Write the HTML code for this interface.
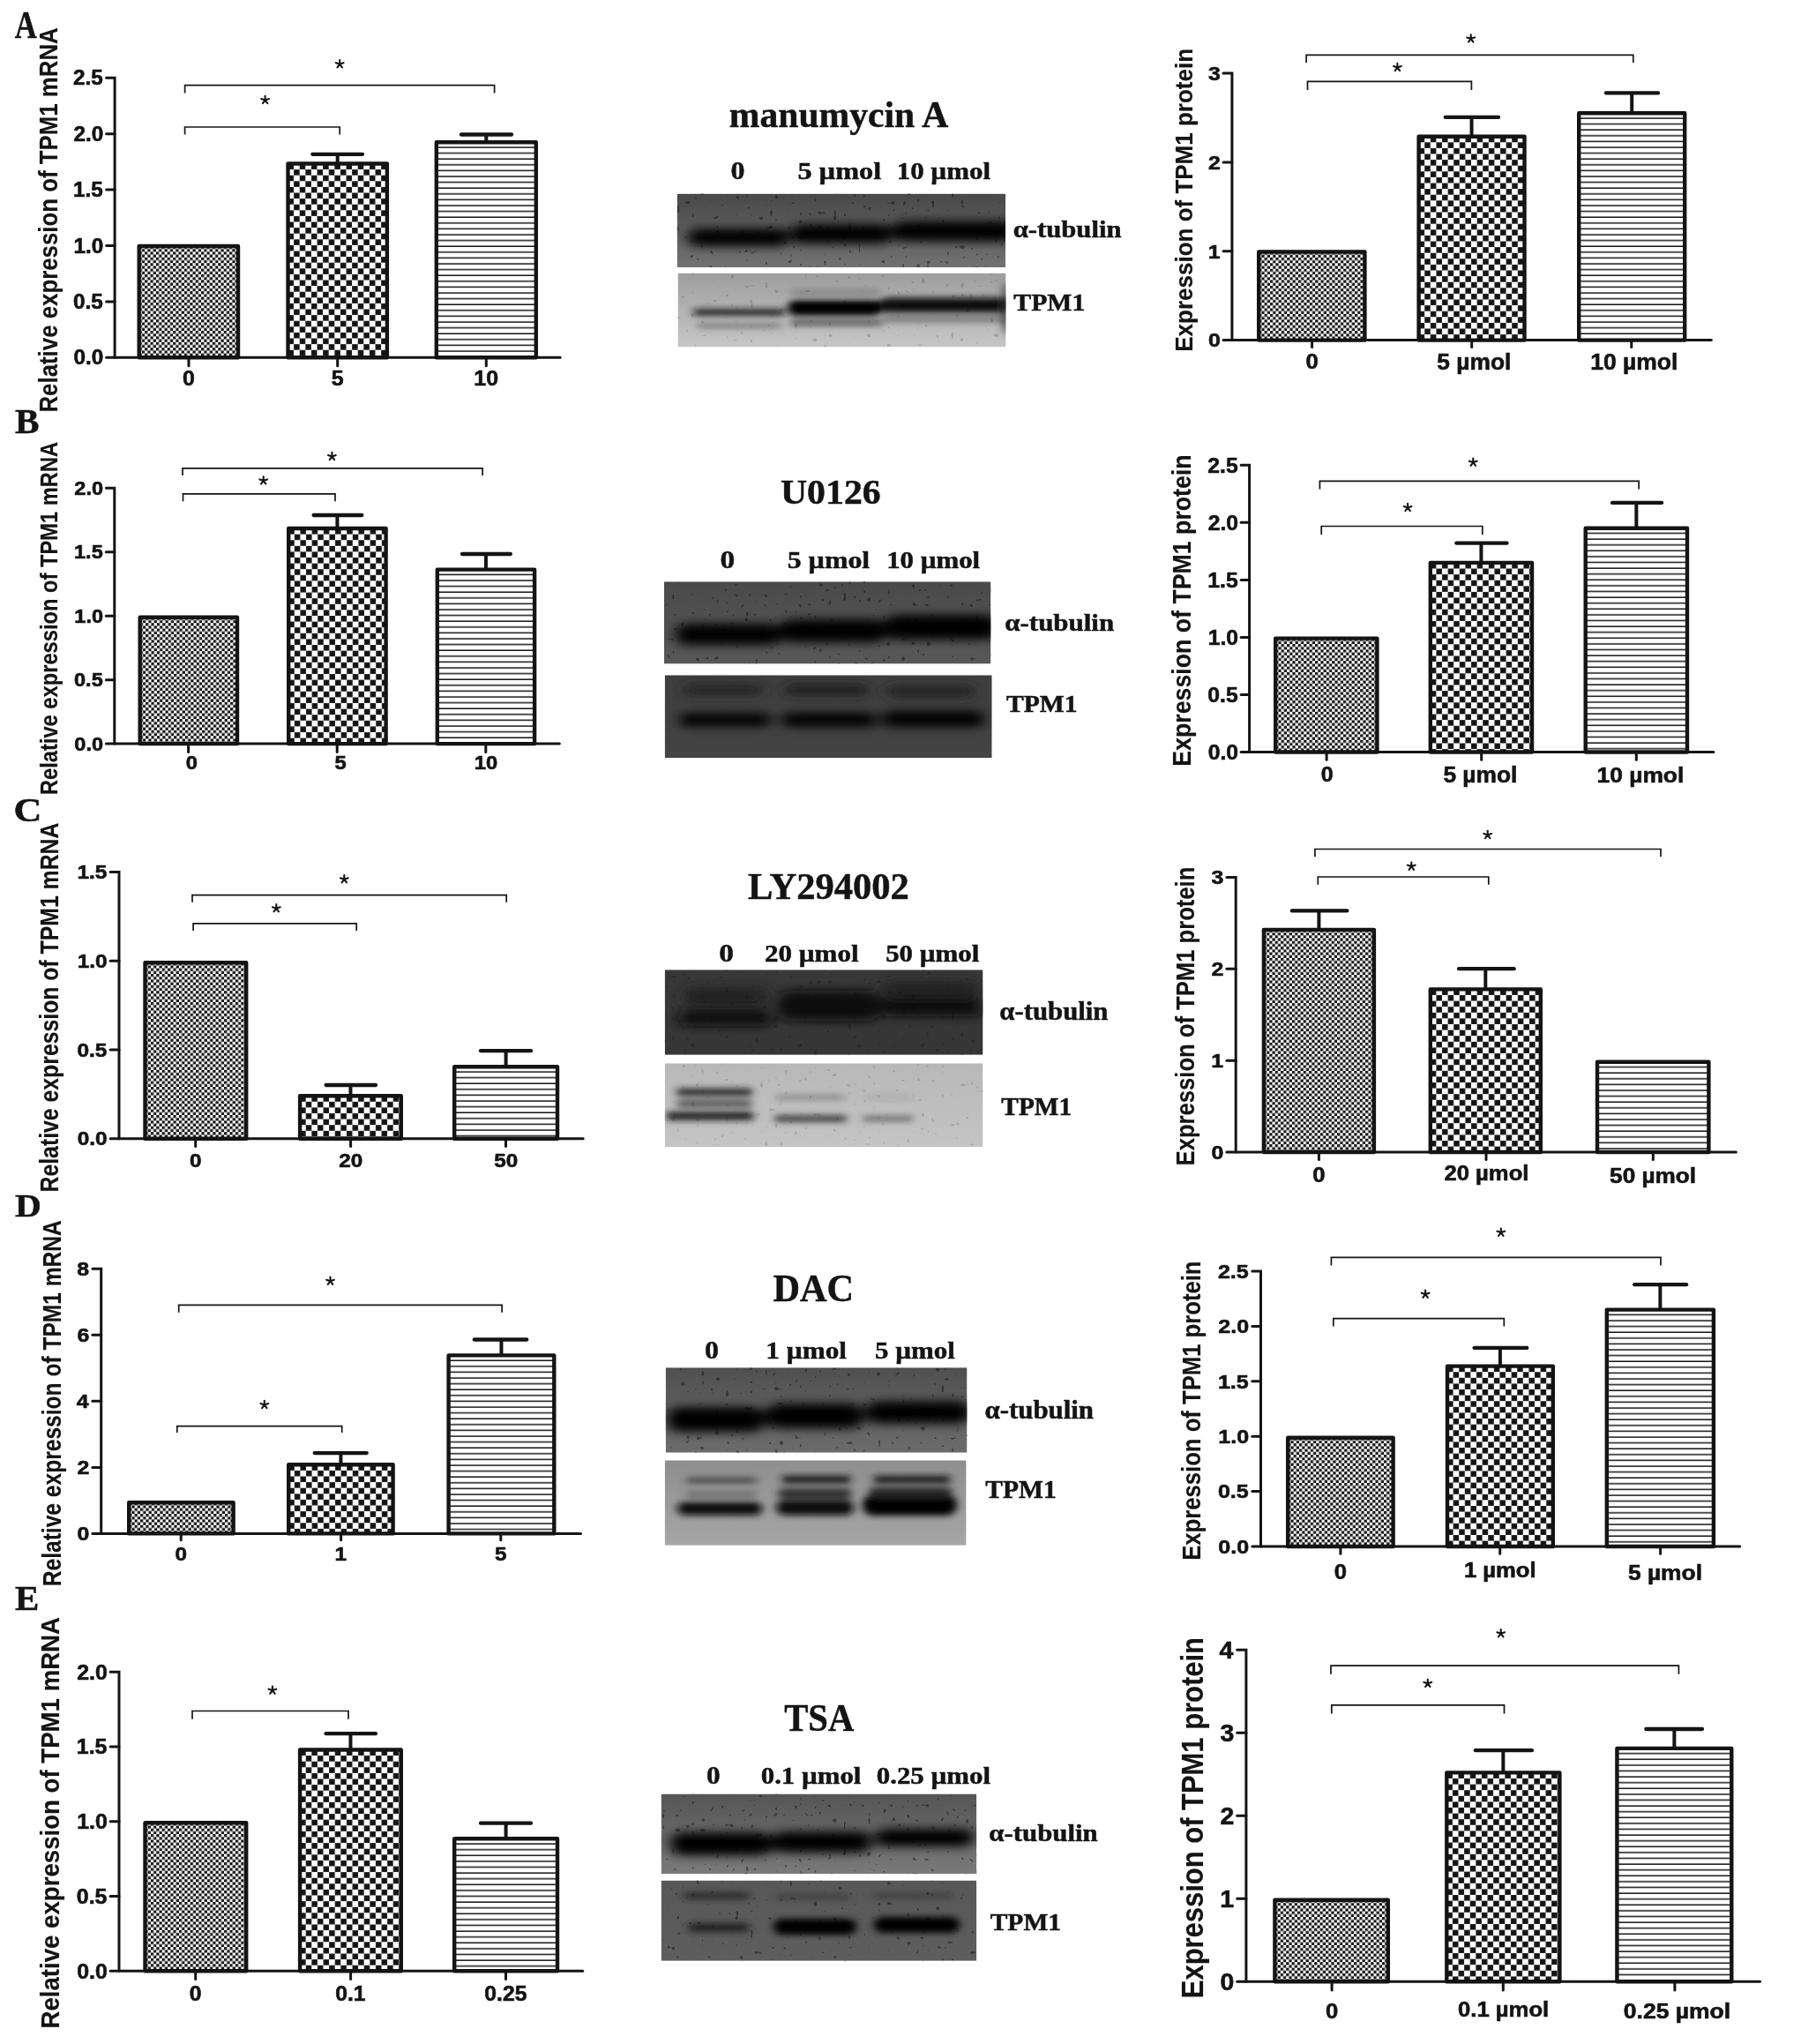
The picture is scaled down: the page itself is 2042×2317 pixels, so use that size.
<!DOCTYPE html>
<html><head><meta charset="utf-8"><style>
html,body{margin:0;padding:0;background:#fff;}
svg{display:block;filter:grayscale(1);}
.s{font-family:"Liberation Sans",sans-serif;font-weight:bold;stroke:#141414;stroke-width:0.6px;}
.t{font-family:"Liberation Sans",sans-serif;font-weight:bold;stroke:#141414;stroke-width:0.15px;}
.r{font-family:"Liberation Serif",serif;font-weight:bold;stroke:#141414;stroke-width:0.5px;}
</style></head><body>
<svg width="2042" height="2317" viewBox="0 0 2042 2317">
<rect width="2042" height="2317" fill="#fff"/>
<defs><filter id="blur" x="-20%" y="-100%" width="140%" height="300%"><feGaussianBlur stdDeviation="5 3.5"/></filter><filter id="blur2" x="-20%" y="-100%" width="140%" height="300%"><feGaussianBlur stdDeviation="8 5.5"/></filter><filter id="sp0" x="0" y="0" width="100%" height="100%"><feTurbulence type="fractalNoise" baseFrequency="0.18" numOctaves="1" seed="4" result="n"/><feColorMatrix in="n" type="matrix" values="0 0 0 0 0  0 0 0 0 0  0 0 0 0 0  30 0 0 0 -20.6"/><feGaussianBlur stdDeviation="0.7"/></filter><filter id="sp1" x="0" y="0" width="100%" height="100%"><feTurbulence type="fractalNoise" baseFrequency="0.18" numOctaves="1" seed="9" result="n"/><feColorMatrix in="n" type="matrix" values="0 0 0 0 0  0 0 0 0 0  0 0 0 0 0  30 0 0 0 -20.9"/><feGaussianBlur stdDeviation="0.7"/></filter></defs>
<pattern id="pAL_0" patternUnits="userSpaceOnUse" x="157.7" y="279" width="6.4" height="6.4"><rect width="6.4" height="6.4" fill="#fff"/><rect width="3.2" height="3.2" fill="#141414"/><rect x="3.2" y="3.2" width="3.2" height="3.2" fill="#141414"/></pattern>
<rect x="157.7" y="279" width="112.3" height="126.3" fill="url(#pAL_0)" stroke="#141414" stroke-width="4.4" stroke-linejoin="round"/>
<pattern id="pAL_1" patternUnits="userSpaceOnUse" x="326.5" y="185.5" width="13.2" height="13.2"><rect width="13.2" height="13.2" fill="#fff"/><rect x="0.07" y="0.07" width="6.47" height="6.47" fill="#141414"/><rect x="6.67" y="6.67" width="6.47" height="6.47" fill="#141414"/></pattern>
<rect x="326.5" y="185.5" width="112.4" height="219.8" fill="url(#pAL_1)" stroke="#141414" stroke-width="4.4" stroke-linejoin="round"/>
<line x1="382.7" y1="185.5" x2="382.7" y2="174.8" stroke="#141414" stroke-width="4"/>
<line x1="354.3" y1="174.8" x2="411" y2="174.8" stroke="#141414" stroke-width="4.3" stroke-linecap="round"/>
<pattern id="pAL_2" patternUnits="userSpaceOnUse" x="494.8" y="161.2" width="20" height="6.6"><rect width="20" height="6.6" fill="#fff"/><rect y="5.1" width="20" height="1.5" fill="#141414"/></pattern>
<rect x="494.8" y="161.2" width="113" height="244.1" fill="url(#pAL_2)" stroke="#141414" stroke-width="4.4" stroke-linejoin="round"/>
<line x1="551.3" y1="161.2" x2="551.3" y2="152.5" stroke="#141414" stroke-width="4"/>
<line x1="523" y1="152.5" x2="580" y2="152.5" stroke="#141414" stroke-width="4.3" stroke-linecap="round"/>
<path d="M120.6 88.3 H130.1 V405.3" fill="none" stroke="#141414" stroke-width="3.0" stroke-linecap="round" stroke-linejoin="miter"/>
<path d="M120.6 405.3 H635.1" fill="none" stroke="#141414" stroke-width="3.0" stroke-linecap="round"/>
<text class="s" transform="translate(83.38 413.41) scale(1.0300 1)" font-size="23.6" fill="#141414">0.0</text>
<line x1="120.6" y1="341.9" x2="130.1" y2="341.9" stroke="#141414" stroke-width="3.0" stroke-linecap="round"/>
<text class="s" transform="translate(83.08 350.01) scale(1.0300 1)" font-size="23.6" fill="#141414">0.5</text>
<line x1="120.6" y1="278.5" x2="130.1" y2="278.5" stroke="#141414" stroke-width="3.0" stroke-linecap="round"/>
<text class="s" transform="translate(83.38 286.61) scale(1.0300 1)" font-size="23.6" fill="#141414">1.0</text>
<line x1="120.6" y1="215.1" x2="130.1" y2="215.1" stroke="#141414" stroke-width="3.0" stroke-linecap="round"/>
<text class="s" transform="translate(83.08 223.09) scale(1.0300 1)" font-size="23.6" fill="#141414">1.5</text>
<line x1="120.6" y1="151.7" x2="130.1" y2="151.7" stroke="#141414" stroke-width="3.0" stroke-linecap="round"/>
<text class="s" transform="translate(83.38 159.81) scale(1.0300 1)" font-size="23.6" fill="#141414">2.0</text>
<text class="s" transform="translate(83.08 96.41) scale(1.0300 1)" font-size="23.6" fill="#141414">2.5</text>
<line x1="214" y1="405.3" x2="214" y2="414.8" stroke="#141414" stroke-width="3.0" stroke-linecap="round"/>
<line x1="382.7" y1="405.3" x2="382.7" y2="414.8" stroke="#141414" stroke-width="3.0" stroke-linecap="round"/>
<line x1="551.3" y1="405.3" x2="551.3" y2="414.8" stroke="#141414" stroke-width="3.0" stroke-linecap="round"/>
<text class="s" transform="translate(207.07 437.25) scale(1.0400 1)" font-size="24" fill="#141414">0</text>
<text class="s" transform="translate(375.74 437.13) scale(1.0400 1)" font-size="24" fill="#141414">5</text>
<text class="s" transform="translate(537.37 437.25) scale(1.0400 1)" font-size="24" fill="#141414">10</text>
<path d="M209.6 152.6 V144 H385.2 V152.6" fill="none" stroke="#141414" stroke-width="1.7"/>
<path d="M209.6 105.5 V96.6 H560.6 V105.5" fill="none" stroke="#141414" stroke-width="1.7"/>
<path d="M300.6 113.4 L300.6 108.8 M300.6 113.4 L304.97 111.98 M300.6 113.4 L303.3 117.12 M300.6 113.4 L297.9 117.12 M300.6 113.4 L296.23 111.98" stroke="#141414" stroke-width="2.1" stroke-linecap="round" fill="none"/>
<path d="M385.2 72.6 L385.2 68 M385.2 72.6 L389.57 71.18 M385.2 72.6 L387.9 76.32 M385.2 72.6 L382.5 76.32 M385.2 72.6 L380.83 71.18" stroke="#141414" stroke-width="2.1" stroke-linecap="round" fill="none"/>
<text class="t" transform="translate(65.1 467.54) rotate(-90) scale(0.8925 1)" font-size="28.95" fill="#141414">Relative expression of TPM1 mRNA</text>
<pattern id="pBL_0" patternUnits="userSpaceOnUse" x="158.7" y="699.8" width="6.4" height="6.4"><rect width="6.4" height="6.4" fill="#fff"/><rect width="3.2" height="3.2" fill="#141414"/><rect x="3.2" y="3.2" width="3.2" height="3.2" fill="#141414"/></pattern>
<rect x="158.7" y="699.8" width="110.3" height="143.3" fill="url(#pBL_0)" stroke="#141414" stroke-width="4.4" stroke-linejoin="round"/>
<pattern id="pBL_1" patternUnits="userSpaceOnUse" x="327.2" y="599" width="13.2" height="13.2"><rect width="13.2" height="13.2" fill="#fff"/><rect x="0.07" y="0.07" width="6.47" height="6.47" fill="#141414"/><rect x="6.67" y="6.67" width="6.47" height="6.47" fill="#141414"/></pattern>
<rect x="327.2" y="599" width="110.4" height="244.1" fill="url(#pBL_1)" stroke="#141414" stroke-width="4.4" stroke-linejoin="round"/>
<line x1="382.4" y1="599" x2="382.4" y2="584" stroke="#141414" stroke-width="4"/>
<line x1="355.6" y1="584" x2="410.3" y2="584" stroke="#141414" stroke-width="4.3" stroke-linecap="round"/>
<pattern id="pBL_2" patternUnits="userSpaceOnUse" x="495.8" y="645.6" width="20" height="6.6"><rect width="20" height="6.6" fill="#fff"/><rect y="5.1" width="20" height="1.5" fill="#141414"/></pattern>
<rect x="495.8" y="645.6" width="110.3" height="197.5" fill="url(#pBL_2)" stroke="#141414" stroke-width="4.4" stroke-linejoin="round"/>
<line x1="550.95" y1="645.6" x2="550.95" y2="628" stroke="#141414" stroke-width="4"/>
<line x1="524" y1="628" x2="578.8" y2="628" stroke="#141414" stroke-width="4.3" stroke-linecap="round"/>
<path d="M120.4 553.3 H129.8 V843.1" fill="none" stroke="#141414" stroke-width="3.0" stroke-linecap="round" stroke-linejoin="miter"/>
<path d="M120.4 843.1 H634.3" fill="none" stroke="#141414" stroke-width="3.0" stroke-linecap="round"/>
<text class="s" transform="translate(84.32 850.59) scale(1.0800 1)" font-size="21.8" fill="#141414">0.0</text>
<line x1="120.4" y1="770.65" x2="129.8" y2="770.65" stroke="#141414" stroke-width="3.0" stroke-linecap="round"/>
<text class="s" transform="translate(84.02 778.14) scale(1.0800 1)" font-size="21.8" fill="#141414">0.5</text>
<line x1="120.4" y1="698.2" x2="129.8" y2="698.2" stroke="#141414" stroke-width="3.0" stroke-linecap="round"/>
<text class="s" transform="translate(84.32 705.69) scale(1.0800 1)" font-size="21.8" fill="#141414">1.0</text>
<line x1="120.4" y1="625.75" x2="129.8" y2="625.75" stroke="#141414" stroke-width="3.0" stroke-linecap="round"/>
<text class="s" transform="translate(84.02 633.13) scale(1.0800 1)" font-size="21.8" fill="#141414">1.5</text>
<text class="s" transform="translate(84.32 560.79) scale(1.0800 1)" font-size="21.8" fill="#141414">2.0</text>
<line x1="213.6" y1="843.1" x2="213.6" y2="852.5" stroke="#141414" stroke-width="3.0" stroke-linecap="round"/>
<line x1="382.2" y1="843.1" x2="382.2" y2="852.5" stroke="#141414" stroke-width="3.0" stroke-linecap="round"/>
<line x1="550.8" y1="843.1" x2="550.8" y2="852.5" stroke="#141414" stroke-width="3.0" stroke-linecap="round"/>
<text class="s" transform="translate(210.81 871.79) scale(1.1200 1)" font-size="21.2" fill="#141414">0</text>
<text class="s" transform="translate(379.58 871.68) scale(1.1200 1)" font-size="21.2" fill="#141414">5</text>
<text class="s" transform="translate(537.75 871.79) scale(1.1200 1)" font-size="21.2" fill="#141414">10</text>
<path d="M207.5 568.3 V559.8 H380 V568.3" fill="none" stroke="#141414" stroke-width="1.7"/>
<path d="M207 538.9 V530.9 H547.1 V538.9" fill="none" stroke="#141414" stroke-width="1.7"/>
<path d="M298.7 544.8 L298.7 540.2 M298.7 544.8 L303.07 543.38 M298.7 544.8 L301.4 548.52 M298.7 544.8 L296 548.52 M298.7 544.8 L294.33 543.38" stroke="#141414" stroke-width="2.1" stroke-linecap="round" fill="none"/>
<path d="M376.4 517.4 L376.4 512.8 M376.4 517.4 L380.77 515.98 M376.4 517.4 L379.1 521.12 M376.4 517.4 L373.7 521.12 M376.4 517.4 L372.03 515.98" stroke="#141414" stroke-width="2.1" stroke-linecap="round" fill="none"/>
<text class="t" transform="translate(65.1 901.1) rotate(-90) scale(0.8398 1)" font-size="28.22" fill="#141414">Relative expression of TPM1 mRNA</text>
<pattern id="pCL_0" patternUnits="userSpaceOnUse" x="164.5" y="1091.2" width="6.4" height="6.4"><rect width="6.4" height="6.4" fill="#fff"/><rect width="3.2" height="3.2" fill="#141414"/><rect x="3.2" y="3.2" width="3.2" height="3.2" fill="#141414"/></pattern>
<rect x="164.5" y="1091.2" width="114.7" height="199.5" fill="url(#pCL_0)" stroke="#141414" stroke-width="4.4" stroke-linejoin="round"/>
<pattern id="pCL_1" patternUnits="userSpaceOnUse" x="340.1" y="1242.2" width="13.2" height="13.2"><rect width="13.2" height="13.2" fill="#fff"/><rect x="0.07" y="0.07" width="6.47" height="6.47" fill="#141414"/><rect x="6.67" y="6.67" width="6.47" height="6.47" fill="#141414"/></pattern>
<rect x="340.1" y="1242.2" width="114.7" height="48.5" fill="url(#pCL_1)" stroke="#141414" stroke-width="4.4" stroke-linejoin="round"/>
<line x1="397.45" y1="1242.2" x2="397.45" y2="1230" stroke="#141414" stroke-width="4"/>
<line x1="369.6" y1="1230" x2="426" y2="1230" stroke="#141414" stroke-width="4.3" stroke-linecap="round"/>
<pattern id="pCL_2" patternUnits="userSpaceOnUse" x="515.2" y="1209.2" width="20" height="6.6"><rect width="20" height="6.6" fill="#fff"/><rect y="5.1" width="20" height="1.5" fill="#141414"/></pattern>
<rect x="515.2" y="1209.2" width="116.8" height="81.5" fill="url(#pCL_2)" stroke="#141414" stroke-width="4.4" stroke-linejoin="round"/>
<line x1="573.6" y1="1209.2" x2="573.6" y2="1191.2" stroke="#141414" stroke-width="4"/>
<line x1="545" y1="1191.2" x2="602" y2="1191.2" stroke="#141414" stroke-width="4.3" stroke-linecap="round"/>
<path d="M125.1 988.45 H135 V1290.7" fill="none" stroke="#141414" stroke-width="3.0" stroke-linecap="round" stroke-linejoin="miter"/>
<path d="M125.1 1290.7 H661.2" fill="none" stroke="#141414" stroke-width="3.0" stroke-linecap="round"/>
<text class="s" transform="translate(87.73 1298.33) scale(1.1000 1)" font-size="22.2" fill="#141414">0.0</text>
<line x1="125.1" y1="1189.95" x2="135" y2="1189.95" stroke="#141414" stroke-width="3.0" stroke-linecap="round"/>
<text class="s" transform="translate(87.43 1197.58) scale(1.1000 1)" font-size="22.2" fill="#141414">0.5</text>
<line x1="125.1" y1="1089.2" x2="135" y2="1089.2" stroke="#141414" stroke-width="3.0" stroke-linecap="round"/>
<text class="s" transform="translate(87.73 1096.83) scale(1.1000 1)" font-size="22.2" fill="#141414">1.0</text>
<text class="s" transform="translate(87.43 995.97) scale(1.1000 1)" font-size="22.2" fill="#141414">1.5</text>
<line x1="221.7" y1="1290.7" x2="221.7" y2="1299.4" stroke="#141414" stroke-width="3.0" stroke-linecap="round"/>
<line x1="397.6" y1="1290.7" x2="397.6" y2="1299.4" stroke="#141414" stroke-width="3.0" stroke-linecap="round"/>
<line x1="573.5" y1="1290.7" x2="573.5" y2="1299.4" stroke="#141414" stroke-width="3.0" stroke-linecap="round"/>
<text class="s" transform="translate(214.96 1322.73) scale(1.0800 1)" font-size="22.5" fill="#141414">0</text>
<text class="s" transform="translate(384.17 1322.73) scale(1.0800 1)" font-size="22.5" fill="#141414">20</text>
<text class="s" transform="translate(560.13 1322.73) scale(1.0800 1)" font-size="22.5" fill="#141414">50</text>
<path d="M219.1 1054.9 V1046.8 H404.2 V1054.9" fill="none" stroke="#141414" stroke-width="1.7"/>
<path d="M218 1022.7 V1014.6 H574.2 V1022.7" fill="none" stroke="#141414" stroke-width="1.7"/>
<path d="M313.3 1029.7 L313.3 1025.1 M313.3 1029.7 L317.67 1028.28 M313.3 1029.7 L316 1033.42 M313.3 1029.7 L310.6 1033.42 M313.3 1029.7 L308.93 1028.28" stroke="#141414" stroke-width="2.1" stroke-linecap="round" fill="none"/>
<path d="M390.3 996.7 L390.3 992.1 M390.3 996.7 L394.67 995.28 M390.3 996.7 L393 1000.42 M390.3 996.7 L387.6 1000.42 M390.3 996.7 L385.93 995.28" stroke="#141414" stroke-width="2.1" stroke-linecap="round" fill="none"/>
<text class="t" transform="translate(66.2 1351.48) rotate(-90) scale(0.8530 1)" font-size="29.09" fill="#141414">Relative expression of TPM1 mRNA</text>
<pattern id="pDL_0" patternUnits="userSpaceOnUse" x="146.2" y="1703.2" width="6.4" height="6.4"><rect width="6.4" height="6.4" fill="#fff"/><rect width="3.2" height="3.2" fill="#141414"/><rect x="3.2" y="3.2" width="3.2" height="3.2" fill="#141414"/></pattern>
<rect x="146.2" y="1703.2" width="118.4" height="35.2" fill="url(#pDL_0)" stroke="#141414" stroke-width="4.4" stroke-linejoin="round"/>
<pattern id="pDL_1" patternUnits="userSpaceOnUse" x="327.2" y="1660.3" width="13.2" height="13.2"><rect width="13.2" height="13.2" fill="#fff"/><rect x="0.07" y="0.07" width="6.47" height="6.47" fill="#141414"/><rect x="6.67" y="6.67" width="6.47" height="6.47" fill="#141414"/></pattern>
<rect x="327.2" y="1660.3" width="118.4" height="78.1" fill="url(#pDL_1)" stroke="#141414" stroke-width="4.4" stroke-linejoin="round"/>
<line x1="386.4" y1="1660.3" x2="386.4" y2="1647.1" stroke="#141414" stroke-width="4"/>
<line x1="356.7" y1="1647.1" x2="415.8" y2="1647.1" stroke="#141414" stroke-width="4.3" stroke-linecap="round"/>
<pattern id="pDL_2" patternUnits="userSpaceOnUse" x="508.6" y="1536.4" width="20" height="6.6"><rect width="20" height="6.6" fill="#fff"/><rect y="5.1" width="20" height="1.5" fill="#141414"/></pattern>
<rect x="508.6" y="1536.4" width="119.7" height="202" fill="url(#pDL_2)" stroke="#141414" stroke-width="4.4" stroke-linejoin="round"/>
<line x1="568.45" y1="1536.4" x2="568.45" y2="1518.5" stroke="#141414" stroke-width="4"/>
<line x1="537.8" y1="1518.5" x2="597.2" y2="1518.5" stroke="#141414" stroke-width="4.3" stroke-linecap="round"/>
<path d="M104.9 1438.32 H114.7 V1738.4" fill="none" stroke="#141414" stroke-width="3.0" stroke-linecap="round" stroke-linejoin="miter"/>
<path d="M104.9 1738.4 H658.5" fill="none" stroke="#141414" stroke-width="3.0" stroke-linecap="round"/>
<text class="s" transform="translate(87.6 1746.03) scale(1.1200 1)" font-size="22.2" fill="#141414">0</text>
<line x1="104.9" y1="1663.38" x2="114.7" y2="1663.38" stroke="#141414" stroke-width="3.0" stroke-linecap="round"/>
<text class="s" transform="translate(87.53 1671.12) scale(1.1200 1)" font-size="22.2" fill="#141414">2</text>
<line x1="104.9" y1="1588.36" x2="114.7" y2="1588.36" stroke="#141414" stroke-width="3.0" stroke-linecap="round"/>
<text class="s" transform="translate(86.72 1595.99) scale(1.1200 1)" font-size="22.2" fill="#141414">4</text>
<line x1="104.9" y1="1513.34" x2="114.7" y2="1513.34" stroke="#141414" stroke-width="3.0" stroke-linecap="round"/>
<text class="s" transform="translate(87.47 1520.97) scale(1.1200 1)" font-size="22.2" fill="#141414">6</text>
<text class="s" transform="translate(87.35 1445.95) scale(1.1200 1)" font-size="22.2" fill="#141414">8</text>
<line x1="205.2" y1="1738.4" x2="205.2" y2="1745.8" stroke="#141414" stroke-width="3.0" stroke-linecap="round"/>
<line x1="386.6" y1="1738.4" x2="386.6" y2="1745.8" stroke="#141414" stroke-width="3.0" stroke-linecap="round"/>
<line x1="567.8" y1="1738.4" x2="567.8" y2="1745.8" stroke="#141414" stroke-width="3.0" stroke-linecap="round"/>
<text class="s" transform="translate(198.46 1769.13) scale(1.0800 1)" font-size="22.5" fill="#141414">0</text>
<text class="s" transform="translate(379.43 1769.13) scale(1.0800 1)" font-size="22.5" fill="#141414">1</text>
<text class="s" transform="translate(561.03 1769.02) scale(1.0800 1)" font-size="22.5" fill="#141414">5</text>
<path d="M200.8 1624 V1616.7 H387.7 V1624" fill="none" stroke="#141414" stroke-width="1.7"/>
<path d="M202.7 1487.7 V1479.3 H569.1 V1487.7" fill="none" stroke="#141414" stroke-width="1.7"/>
<path d="M299.8 1592.5 L299.8 1587.9 M299.8 1592.5 L304.17 1591.08 M299.8 1592.5 L302.5 1596.22 M299.8 1592.5 L297.1 1596.22 M299.8 1592.5 L295.43 1591.08" stroke="#141414" stroke-width="2.1" stroke-linecap="round" fill="none"/>
<path d="M374.5 1452.2 L374.5 1447.6 M374.5 1452.2 L378.87 1450.78 M374.5 1452.2 L377.2 1455.92 M374.5 1452.2 L371.8 1455.92 M374.5 1452.2 L370.13 1450.78" stroke="#141414" stroke-width="2.1" stroke-linecap="round" fill="none"/>
<text class="t" transform="translate(68.6 1798.26) rotate(-90) scale(0.8285 1)" font-size="29.67" fill="#141414">Relative expression of TPM1 mRNA</text>
<pattern id="pEL_0" patternUnits="userSpaceOnUse" x="164.5" y="2066.3" width="6.4" height="6.4"><rect width="6.4" height="6.4" fill="#fff"/><rect width="3.2" height="3.2" fill="#141414"/><rect x="3.2" y="3.2" width="3.2" height="3.2" fill="#141414"/></pattern>
<rect x="164.5" y="2066.3" width="114.7" height="167.9" fill="url(#pEL_0)" stroke="#141414" stroke-width="4.4" stroke-linejoin="round"/>
<pattern id="pEL_1" patternUnits="userSpaceOnUse" x="340.1" y="1983.5" width="13.2" height="13.2"><rect width="13.2" height="13.2" fill="#fff"/><rect x="0.07" y="0.07" width="6.47" height="6.47" fill="#141414"/><rect x="6.67" y="6.67" width="6.47" height="6.47" fill="#141414"/></pattern>
<rect x="340.1" y="1983.5" width="114.7" height="250.7" fill="url(#pEL_1)" stroke="#141414" stroke-width="4.4" stroke-linejoin="round"/>
<line x1="397.45" y1="1983.5" x2="397.45" y2="1965.2" stroke="#141414" stroke-width="4"/>
<line x1="369.6" y1="1965.2" x2="426" y2="1965.2" stroke="#141414" stroke-width="4.3" stroke-linecap="round"/>
<pattern id="pEL_2" patternUnits="userSpaceOnUse" x="515.2" y="2084.3" width="20" height="6.6"><rect width="20" height="6.6" fill="#fff"/><rect y="5.1" width="20" height="1.5" fill="#141414"/></pattern>
<rect x="515.2" y="2084.3" width="116.8" height="149.9" fill="url(#pEL_2)" stroke="#141414" stroke-width="4.4" stroke-linejoin="round"/>
<line x1="573.6" y1="2084.3" x2="573.6" y2="2066.7" stroke="#141414" stroke-width="4"/>
<line x1="545" y1="2066.7" x2="602" y2="2066.7" stroke="#141414" stroke-width="4.3" stroke-linecap="round"/>
<path d="M125.1 1895.2 H135 V2234.2" fill="none" stroke="#141414" stroke-width="3.0" stroke-linecap="round" stroke-linejoin="miter"/>
<path d="M125.1 2234.2 H660.7" fill="none" stroke="#141414" stroke-width="3.0" stroke-linecap="round"/>
<text class="s" transform="translate(87.15 2242.52) scale(1.0300 1)" font-size="24.2" fill="#141414">0.0</text>
<line x1="125.1" y1="2149.45" x2="135" y2="2149.45" stroke="#141414" stroke-width="3.0" stroke-linecap="round"/>
<text class="s" transform="translate(86.84 2157.77) scale(1.0300 1)" font-size="24.2" fill="#141414">0.5</text>
<line x1="125.1" y1="2064.7" x2="135" y2="2064.7" stroke="#141414" stroke-width="3.0" stroke-linecap="round"/>
<text class="s" transform="translate(87.15 2073.02) scale(1.0300 1)" font-size="24.2" fill="#141414">1.0</text>
<line x1="125.1" y1="1979.95" x2="135" y2="1979.95" stroke="#141414" stroke-width="3.0" stroke-linecap="round"/>
<text class="s" transform="translate(86.84 1988.15) scale(1.0300 1)" font-size="24.2" fill="#141414">1.5</text>
<text class="s" transform="translate(87.15 1903.52) scale(1.0300 1)" font-size="24.2" fill="#141414">2.0</text>
<line x1="221.7" y1="2234.2" x2="221.7" y2="2243.4" stroke="#141414" stroke-width="3.0" stroke-linecap="round"/>
<line x1="397.6" y1="2234.2" x2="397.6" y2="2243.4" stroke="#141414" stroke-width="3.0" stroke-linecap="round"/>
<line x1="573.5" y1="2234.2" x2="573.5" y2="2243.4" stroke="#141414" stroke-width="3.0" stroke-linecap="round"/>
<text class="s" transform="translate(214.85 2268.28) scale(1.0500 1)" font-size="23.5" fill="#141414">0</text>
<text class="s" transform="translate(380.3 2268.28) scale(1.0500 1)" font-size="23.5" fill="#141414">0.1</text>
<text class="s" transform="translate(549.35 2268.28) scale(1.0500 1)" font-size="23.5" fill="#141414">0.25</text>
<path d="M218 1948.7 V1939.5 H395 V1948.7" fill="none" stroke="#141414" stroke-width="1.7"/>
<path d="M308.9 1916.1 L308.9 1911.5 M308.9 1916.1 L313.27 1914.68 M308.9 1916.1 L311.6 1919.82 M308.9 1916.1 L306.2 1919.82 M308.9 1916.1 L304.53 1914.68" stroke="#141414" stroke-width="2.1" stroke-linecap="round" fill="none"/>
<text class="t" transform="translate(67.3 2299.46) rotate(-90) scale(0.9356 1)" font-size="29.53" fill="#141414">Relative expression of TPM1 mRNA</text>
<pattern id="pAR_0" patternUnits="userSpaceOnUse" x="1427.2" y="285.5" width="6.4" height="6.4"><rect width="6.4" height="6.4" fill="#fff"/><rect width="3.2" height="3.2" fill="#141414"/><rect x="3.2" y="3.2" width="3.2" height="3.2" fill="#141414"/></pattern>
<rect x="1427.2" y="285.5" width="120.2" height="100.1" fill="url(#pAR_0)" stroke="#141414" stroke-width="4.4" stroke-linejoin="round"/>
<pattern id="pAR_1" patternUnits="userSpaceOnUse" x="1608.6" y="154.7" width="13.2" height="13.2"><rect width="13.2" height="13.2" fill="#fff"/><rect x="0.07" y="0.07" width="6.47" height="6.47" fill="#141414"/><rect x="6.67" y="6.67" width="6.47" height="6.47" fill="#141414"/></pattern>
<rect x="1608.6" y="154.7" width="119.9" height="230.9" fill="url(#pAR_1)" stroke="#141414" stroke-width="4.4" stroke-linejoin="round"/>
<line x1="1668.55" y1="154.7" x2="1668.55" y2="132.9" stroke="#141414" stroke-width="4"/>
<line x1="1638.7" y1="132.9" x2="1699" y2="132.9" stroke="#141414" stroke-width="4.3" stroke-linecap="round"/>
<pattern id="pAR_2" patternUnits="userSpaceOnUse" x="1790.2" y="128.2" width="20" height="6.6"><rect width="20" height="6.6" fill="#fff"/><rect y="5.1" width="20" height="1.5" fill="#141414"/></pattern>
<rect x="1790.2" y="128.2" width="120" height="257.4" fill="url(#pAR_2)" stroke="#141414" stroke-width="4.4" stroke-linejoin="round"/>
<line x1="1850.2" y1="128.2" x2="1850.2" y2="105.4" stroke="#141414" stroke-width="4"/>
<line x1="1821" y1="105.4" x2="1880" y2="105.4" stroke="#141414" stroke-width="4.3" stroke-linecap="round"/>
<path d="M1387 83.11 H1396.9 V385.6" fill="none" stroke="#141414" stroke-width="3.0" stroke-linecap="round" stroke-linejoin="miter"/>
<path d="M1387 385.6 H1940.3" fill="none" stroke="#141414" stroke-width="3.0" stroke-linecap="round"/>
<text class="s" transform="translate(1370.1 393.37) scale(1.1000 1)" font-size="22.6" fill="#141414">0</text>
<line x1="1387" y1="284.77" x2="1396.9" y2="284.77" stroke="#141414" stroke-width="3.0" stroke-linecap="round"/>
<text class="s" transform="translate(1369.79 292.54) scale(1.1000 1)" font-size="22.6" fill="#141414">1</text>
<line x1="1387" y1="183.94" x2="1396.9" y2="183.94" stroke="#141414" stroke-width="3.0" stroke-linecap="round"/>
<text class="s" transform="translate(1370.03 191.82) scale(1.1000 1)" font-size="22.6" fill="#141414">2</text>
<text class="s" transform="translate(1369.97 90.85) scale(1.1000 1)" font-size="22.6" fill="#141414">3</text>
<line x1="1487.6" y1="385.6" x2="1487.6" y2="393.6" stroke="#141414" stroke-width="3.0" stroke-linecap="round"/>
<line x1="1668.7" y1="385.6" x2="1668.7" y2="393.6" stroke="#141414" stroke-width="3.0" stroke-linecap="round"/>
<line x1="1849.8" y1="385.6" x2="1849.8" y2="393.6" stroke="#141414" stroke-width="3.0" stroke-linecap="round"/>
<text class="s" transform="translate(1480.57 417.9) scale(1.0664 1)" font-size="24.09" fill="#141414">0</text>
<text class="s" transform="translate(1629.31 418.8) scale(1.0502 1)" font-size="25.1" fill="#141414">5 µmol</text>
<text class="s" transform="translate(1803.25 418.8) scale(1.0542 1)" font-size="25.1" fill="#141414">10 µmol</text>
<path d="M1482.5 101.9 V92.3 H1668.4 V101.9" fill="none" stroke="#141414" stroke-width="1.7"/>
<path d="M1481.1 71 V62.3 H1851.8 V71" fill="none" stroke="#141414" stroke-width="1.7"/>
<path d="M1584.4 76.5 L1584.4 71.9 M1584.4 76.5 L1588.77 75.08 M1584.4 76.5 L1587.1 80.22 M1584.4 76.5 L1581.7 80.22 M1584.4 76.5 L1580.03 75.08" stroke="#141414" stroke-width="2.1" stroke-linecap="round" fill="none"/>
<path d="M1667.7 43.8 L1667.7 39.2 M1667.7 43.8 L1672.07 42.38 M1667.7 43.8 L1670.4 47.52 M1667.7 43.8 L1665 47.52 M1667.7 43.8 L1663.33 42.38" stroke="#141414" stroke-width="2.1" stroke-linecap="round" fill="none"/>
<text class="t" transform="translate(1352.2 398.76) rotate(-90) scale(0.9268 1)" font-size="28.07" fill="#141414">Expression of TPM1 protein</text>
<pattern id="pBR_0" patternUnits="userSpaceOnUse" x="1446.2" y="723.6" width="6.4" height="6.4"><rect width="6.4" height="6.4" fill="#fff"/><rect width="3.2" height="3.2" fill="#141414"/><rect x="3.2" y="3.2" width="3.2" height="3.2" fill="#141414"/></pattern>
<rect x="1446.2" y="723.6" width="115.2" height="128.9" fill="url(#pBR_0)" stroke="#141414" stroke-width="4.4" stroke-linejoin="round"/>
<pattern id="pBR_1" patternUnits="userSpaceOnUse" x="1621.8" y="637.9" width="13.2" height="13.2"><rect width="13.2" height="13.2" fill="#fff"/><rect x="0.07" y="0.07" width="6.47" height="6.47" fill="#141414"/><rect x="6.67" y="6.67" width="6.47" height="6.47" fill="#141414"/></pattern>
<rect x="1621.8" y="637.9" width="115.2" height="214.6" fill="url(#pBR_1)" stroke="#141414" stroke-width="4.4" stroke-linejoin="round"/>
<line x1="1679.4" y1="637.9" x2="1679.4" y2="615.7" stroke="#141414" stroke-width="4"/>
<line x1="1651.3" y1="615.7" x2="1708.5" y2="615.7" stroke="#141414" stroke-width="4.3" stroke-linecap="round"/>
<pattern id="pBR_2" patternUnits="userSpaceOnUse" x="1797.7" y="598.7" width="20" height="6.6"><rect width="20" height="6.6" fill="#fff"/><rect y="5.1" width="20" height="1.5" fill="#141414"/></pattern>
<rect x="1797.7" y="598.7" width="115.3" height="253.8" fill="url(#pBR_2)" stroke="#141414" stroke-width="4.4" stroke-linejoin="round"/>
<line x1="1855.35" y1="598.7" x2="1855.35" y2="569.9" stroke="#141414" stroke-width="4"/>
<line x1="1828" y1="569.9" x2="1884.1" y2="569.9" stroke="#141414" stroke-width="4.3" stroke-linecap="round"/>
<path d="M1407.1 527.3 H1416.6 V852.5" fill="none" stroke="#141414" stroke-width="3.0" stroke-linecap="round" stroke-linejoin="miter"/>
<path d="M1407.1 852.5 H1942.9" fill="none" stroke="#141414" stroke-width="3.0" stroke-linecap="round"/>
<text class="s" transform="translate(1369.63 860.75) scale(1.0300 1)" font-size="24" fill="#141414">0.0</text>
<line x1="1407.1" y1="787.46" x2="1416.6" y2="787.46" stroke="#141414" stroke-width="3.0" stroke-linecap="round"/>
<text class="s" transform="translate(1369.32 795.71) scale(1.0300 1)" font-size="24" fill="#141414">0.5</text>
<line x1="1407.1" y1="722.42" x2="1416.6" y2="722.42" stroke="#141414" stroke-width="3.0" stroke-linecap="round"/>
<text class="s" transform="translate(1369.63 730.67) scale(1.0300 1)" font-size="24" fill="#141414">1.0</text>
<line x1="1407.1" y1="657.38" x2="1416.6" y2="657.38" stroke="#141414" stroke-width="3.0" stroke-linecap="round"/>
<text class="s" transform="translate(1369.32 665.51) scale(1.0300 1)" font-size="24" fill="#141414">1.5</text>
<line x1="1407.1" y1="592.34" x2="1416.6" y2="592.34" stroke="#141414" stroke-width="3.0" stroke-linecap="round"/>
<text class="s" transform="translate(1369.63 600.59) scale(1.0300 1)" font-size="24" fill="#141414">2.0</text>
<text class="s" transform="translate(1369.32 535.55) scale(1.0300 1)" font-size="24" fill="#141414">2.5</text>
<line x1="1504.1" y1="852.5" x2="1504.1" y2="861.3" stroke="#141414" stroke-width="3.0" stroke-linecap="round"/>
<line x1="1679.7" y1="852.5" x2="1679.7" y2="861.3" stroke="#141414" stroke-width="3.0" stroke-linecap="round"/>
<line x1="1855.3" y1="852.5" x2="1855.3" y2="861.3" stroke="#141414" stroke-width="3.0" stroke-linecap="round"/>
<text class="s" transform="translate(1497.7 886.2) scale(1.0279 1)" font-size="24.37" fill="#141414">0</text>
<text class="s" transform="translate(1636.41 887.2) scale(1.0319 1)" font-size="25.52" fill="#141414">5 µmol</text>
<text class="s" transform="translate(1810.55 887.2) scale(1.0626 1)" font-size="24.83" fill="#141414">10 µmol</text>
<path d="M1498.2 606 V596.5 H1680.8 V606" fill="none" stroke="#141414" stroke-width="1.7"/>
<path d="M1496.4 554.5 V545.4 H1858.1 V554.5" fill="none" stroke="#141414" stroke-width="1.7"/>
<path d="M1596.1 575.5 L1596.1 570.9 M1596.1 575.5 L1600.47 574.08 M1596.1 575.5 L1598.8 579.22 M1596.1 575.5 L1593.4 579.22 M1596.1 575.5 L1591.73 574.08" stroke="#141414" stroke-width="2.1" stroke-linecap="round" fill="none"/>
<path d="M1670.3 524.1 L1670.3 519.5 M1670.3 524.1 L1674.67 522.68 M1670.3 524.1 L1673 527.82 M1670.3 524.1 L1667.6 527.82 M1670.3 524.1 L1665.93 522.68" stroke="#141414" stroke-width="2.1" stroke-linecap="round" fill="none"/>
<text class="t" transform="translate(1350 868.7) rotate(-90) scale(0.9142 1)" font-size="29.24" fill="#141414">Expression of TPM1 protein</text>
<pattern id="pCR_0" patternUnits="userSpaceOnUse" x="1432.9" y="1053.9" width="6.4" height="6.4"><rect width="6.4" height="6.4" fill="#fff"/><rect width="3.2" height="3.2" fill="#141414"/><rect x="3.2" y="3.2" width="3.2" height="3.2" fill="#141414"/></pattern>
<rect x="1432.9" y="1053.9" width="125" height="252.1" fill="url(#pCR_0)" stroke="#141414" stroke-width="4.4" stroke-linejoin="round"/>
<line x1="1495.4" y1="1053.9" x2="1495.4" y2="1032.4" stroke="#141414" stroke-width="4"/>
<line x1="1464.9" y1="1032.4" x2="1527.3" y2="1032.4" stroke="#141414" stroke-width="4.3" stroke-linecap="round"/>
<pattern id="pCR_1" patternUnits="userSpaceOnUse" x="1621.8" y="1121.4" width="13.2" height="13.2"><rect width="13.2" height="13.2" fill="#fff"/><rect x="0.07" y="0.07" width="6.47" height="6.47" fill="#141414"/><rect x="6.67" y="6.67" width="6.47" height="6.47" fill="#141414"/></pattern>
<rect x="1621.8" y="1121.4" width="125" height="184.6" fill="url(#pCR_1)" stroke="#141414" stroke-width="4.4" stroke-linejoin="round"/>
<line x1="1684.3" y1="1121.4" x2="1684.3" y2="1098.2" stroke="#141414" stroke-width="4"/>
<line x1="1654.1" y1="1098.2" x2="1716.6" y2="1098.2" stroke="#141414" stroke-width="4.3" stroke-linecap="round"/>
<pattern id="pCR_2" patternUnits="userSpaceOnUse" x="1811" y="1203.8" width="20" height="6.6"><rect width="20" height="6.6" fill="#fff"/><rect y="5.1" width="20" height="1.5" fill="#141414"/></pattern>
<rect x="1811" y="1203.8" width="126.4" height="102.2" fill="url(#pCR_2)" stroke="#141414" stroke-width="4.4" stroke-linejoin="round"/>
<path d="M1390.9 994.51 H1401.2 V1306" fill="none" stroke="#141414" stroke-width="3.0" stroke-linecap="round" stroke-linejoin="miter"/>
<path d="M1390.9 1306 H1968.3" fill="none" stroke="#141414" stroke-width="3.0" stroke-linecap="round"/>
<text class="s" transform="translate(1373.6 1313.77) scale(1.1000 1)" font-size="22.6" fill="#141414">0</text>
<line x1="1390.9" y1="1202.17" x2="1401.2" y2="1202.17" stroke="#141414" stroke-width="3.0" stroke-linecap="round"/>
<text class="s" transform="translate(1373.29 1209.94) scale(1.1000 1)" font-size="22.6" fill="#141414">1</text>
<line x1="1390.9" y1="1098.34" x2="1401.2" y2="1098.34" stroke="#141414" stroke-width="3.0" stroke-linecap="round"/>
<text class="s" transform="translate(1373.53 1106.22) scale(1.1000 1)" font-size="22.6" fill="#141414">2</text>
<text class="s" transform="translate(1373.47 1002.25) scale(1.1000 1)" font-size="22.6" fill="#141414">3</text>
<line x1="1495.4" y1="1306" x2="1495.4" y2="1314.5" stroke="#141414" stroke-width="3.0" stroke-linecap="round"/>
<line x1="1685" y1="1306" x2="1685" y2="1314.5" stroke="#141414" stroke-width="3.0" stroke-linecap="round"/>
<line x1="1874.3" y1="1306" x2="1874.3" y2="1314.5" stroke="#141414" stroke-width="3.0" stroke-linecap="round"/>
<text class="s" transform="translate(1488.28 1339.82) scale(1.0600 1)" font-size="24.2" fill="#141414">0</text>
<text class="s" transform="translate(1637.42 1337.76) scale(1.0600 1)" font-size="24.2" fill="#141414">20 µmol</text>
<text class="s" transform="translate(1825.11 1340.8) scale(1.1162 1)" font-size="23.45" fill="#141414">50 µmol</text>
<path d="M1494.3 1002.7 V994 H1687.8 V1002.7" fill="none" stroke="#141414" stroke-width="1.7"/>
<path d="M1490.9 971.2 V962.5 H1883 V971.2" fill="none" stroke="#141414" stroke-width="1.7"/>
<path d="M1600.3 982.1 L1600.3 977.5 M1600.3 982.1 L1604.67 980.68 M1600.3 982.1 L1603 985.82 M1600.3 982.1 L1597.6 985.82 M1600.3 982.1 L1595.93 980.68" stroke="#141414" stroke-width="2.1" stroke-linecap="round" fill="none"/>
<path d="M1686.7 946.4 L1686.7 941.8 M1686.7 946.4 L1691.07 944.98 M1686.7 946.4 L1689.4 950.12 M1686.7 946.4 L1684 950.12 M1686.7 946.4 L1682.33 944.98" stroke="#141414" stroke-width="2.1" stroke-linecap="round" fill="none"/>
<text class="t" transform="translate(1353.7 1321.43) rotate(-90) scale(0.8854 1)" font-size="28.95" fill="#141414">Expression of TPM1 protein</text>
<pattern id="pDR_0" patternUnits="userSpaceOnUse" x="1460.2" y="1629.8" width="6.4" height="6.4"><rect width="6.4" height="6.4" fill="#fff"/><rect width="3.2" height="3.2" fill="#141414"/><rect x="3.2" y="3.2" width="3.2" height="3.2" fill="#141414"/></pattern>
<rect x="1460.2" y="1629.8" width="119.4" height="123.2" fill="url(#pDR_0)" stroke="#141414" stroke-width="4.4" stroke-linejoin="round"/>
<pattern id="pDR_1" patternUnits="userSpaceOnUse" x="1641" y="1548.6" width="13.2" height="13.2"><rect width="13.2" height="13.2" fill="#fff"/><rect x="0.07" y="0.07" width="6.47" height="6.47" fill="#141414"/><rect x="6.67" y="6.67" width="6.47" height="6.47" fill="#141414"/></pattern>
<rect x="1641" y="1548.6" width="119.8" height="204.4" fill="url(#pDR_1)" stroke="#141414" stroke-width="4.4" stroke-linejoin="round"/>
<line x1="1700.9" y1="1548.6" x2="1700.9" y2="1527.9" stroke="#141414" stroke-width="4"/>
<line x1="1671.6" y1="1527.9" x2="1731.3" y2="1527.9" stroke="#141414" stroke-width="4.3" stroke-linecap="round"/>
<pattern id="pDR_2" patternUnits="userSpaceOnUse" x="1821.8" y="1484.6" width="20" height="6.6"><rect width="20" height="6.6" fill="#fff"/><rect y="5.1" width="20" height="1.5" fill="#141414"/></pattern>
<rect x="1821.8" y="1484.6" width="121.1" height="268.4" fill="url(#pDR_2)" stroke="#141414" stroke-width="4.4" stroke-linejoin="round"/>
<line x1="1882.35" y1="1484.6" x2="1882.35" y2="1456.2" stroke="#141414" stroke-width="4"/>
<line x1="1853.2" y1="1456.2" x2="1912.1" y2="1456.2" stroke="#141414" stroke-width="4.3" stroke-linecap="round"/>
<path d="M1419.8 1441 H1429.5 V1753" fill="none" stroke="#141414" stroke-width="3.0" stroke-linecap="round" stroke-linejoin="miter"/>
<path d="M1419.8 1753 H1972.7" fill="none" stroke="#141414" stroke-width="3.0" stroke-linecap="round"/>
<text class="s" transform="translate(1381.24 1760.84) scale(1.1000 1)" font-size="22.8" fill="#141414">0.0</text>
<line x1="1419.8" y1="1690.6" x2="1429.5" y2="1690.6" stroke="#141414" stroke-width="3.0" stroke-linecap="round"/>
<text class="s" transform="translate(1380.93 1698.44) scale(1.1000 1)" font-size="22.8" fill="#141414">0.5</text>
<line x1="1419.8" y1="1628.2" x2="1429.5" y2="1628.2" stroke="#141414" stroke-width="3.0" stroke-linecap="round"/>
<text class="s" transform="translate(1381.24 1636.04) scale(1.1000 1)" font-size="22.8" fill="#141414">1.0</text>
<line x1="1419.8" y1="1565.8" x2="1429.5" y2="1565.8" stroke="#141414" stroke-width="3.0" stroke-linecap="round"/>
<text class="s" transform="translate(1380.93 1573.52) scale(1.1000 1)" font-size="22.8" fill="#141414">1.5</text>
<line x1="1419.8" y1="1503.4" x2="1429.5" y2="1503.4" stroke="#141414" stroke-width="3.0" stroke-linecap="round"/>
<text class="s" transform="translate(1381.24 1511.24) scale(1.1000 1)" font-size="22.8" fill="#141414">2.0</text>
<text class="s" transform="translate(1380.93 1448.84) scale(1.1000 1)" font-size="22.8" fill="#141414">2.5</text>
<line x1="1519.9" y1="1753" x2="1519.9" y2="1761.2" stroke="#141414" stroke-width="3.0" stroke-linecap="round"/>
<line x1="1700.7" y1="1753" x2="1700.7" y2="1761.2" stroke="#141414" stroke-width="3.0" stroke-linecap="round"/>
<line x1="1882.6" y1="1753" x2="1882.6" y2="1761.2" stroke="#141414" stroke-width="3.0" stroke-linecap="round"/>
<text class="s" transform="translate(1512.78 1789.82) scale(1.0600 1)" font-size="24.2" fill="#141414">0</text>
<text class="s" transform="translate(1659.91 1787.76) scale(1.0600 1)" font-size="24.2" fill="#141414">1 µmol</text>
<text class="s" transform="translate(1845.91 1790.9) scale(1.0812 1)" font-size="24.41" fill="#141414">5 µmol</text>
<path d="M1511.8 1503.4 V1494.7 H1705.3 V1503.4" fill="none" stroke="#141414" stroke-width="1.7"/>
<path d="M1509.4 1434.5 V1425.4 H1883 V1434.5" fill="none" stroke="#141414" stroke-width="1.7"/>
<path d="M1616.1 1467.1 L1616.1 1462.5 M1616.1 1467.1 L1620.47 1465.68 M1616.1 1467.1 L1618.8 1470.82 M1616.1 1467.1 L1613.4 1470.82 M1616.1 1467.1 L1611.73 1465.68" stroke="#141414" stroke-width="2.1" stroke-linecap="round" fill="none"/>
<path d="M1701.8 1397.1 L1701.8 1392.5 M1701.8 1397.1 L1706.17 1395.68 M1701.8 1397.1 L1704.5 1400.82 M1701.8 1397.1 L1699.1 1400.82 M1701.8 1397.1 L1697.43 1395.68" stroke="#141414" stroke-width="2.1" stroke-linecap="round" fill="none"/>
<text class="t" transform="translate(1360.5 1768.83) rotate(-90) scale(0.8915 1)" font-size="28.8" fill="#141414">Expression of TPM1 protein</text>
<pattern id="pER_0" patternUnits="userSpaceOnUse" x="1445.4" y="2153.8" width="6.4" height="6.4"><rect width="6.4" height="6.4" fill="#fff"/><rect width="3.2" height="3.2" fill="#141414"/><rect x="3.2" y="3.2" width="3.2" height="3.2" fill="#141414"/></pattern>
<rect x="1445.4" y="2153.8" width="128.4" height="92.4" fill="url(#pER_0)" stroke="#141414" stroke-width="4.4" stroke-linejoin="round"/>
<pattern id="pER_1" patternUnits="userSpaceOnUse" x="1640.3" y="2009.4" width="13.2" height="13.2"><rect width="13.2" height="13.2" fill="#fff"/><rect x="0.07" y="0.07" width="6.47" height="6.47" fill="#141414"/><rect x="6.67" y="6.67" width="6.47" height="6.47" fill="#141414"/></pattern>
<rect x="1640.3" y="2009.4" width="128.1" height="236.8" fill="url(#pER_1)" stroke="#141414" stroke-width="4.4" stroke-linejoin="round"/>
<line x1="1704.35" y1="2009.4" x2="1704.35" y2="1984.2" stroke="#141414" stroke-width="4"/>
<line x1="1672.9" y1="1984.2" x2="1736.9" y2="1984.2" stroke="#141414" stroke-width="4.3" stroke-linecap="round"/>
<pattern id="pER_2" patternUnits="userSpaceOnUse" x="1833.4" y="1981.9" width="20" height="6.6"><rect width="20" height="6.6" fill="#fff"/><rect y="5.1" width="20" height="1.5" fill="#141414"/></pattern>
<rect x="1833.4" y="1981.9" width="129.9" height="264.3" fill="url(#pER_2)" stroke="#141414" stroke-width="4.4" stroke-linejoin="round"/>
<line x1="1898.35" y1="1981.9" x2="1898.35" y2="1960" stroke="#141414" stroke-width="4"/>
<line x1="1866.3" y1="1960" x2="1930" y2="1960" stroke="#141414" stroke-width="4.3" stroke-linecap="round"/>
<path d="M1402.7 1870.28 H1412.9 V2246.2" fill="none" stroke="#141414" stroke-width="3.0" stroke-linecap="round" stroke-linejoin="miter"/>
<path d="M1402.7 2246.2 H1995.5" fill="none" stroke="#141414" stroke-width="3.0" stroke-linecap="round"/>
<text class="s" transform="translate(1383.56 2255.69) scale(1.0300 1)" font-size="27.6" fill="#141414">0</text>
<line x1="1402.7" y1="2152.22" x2="1412.9" y2="2152.22" stroke="#141414" stroke-width="3.0" stroke-linecap="round"/>
<text class="s" transform="translate(1383.2 2161.71) scale(1.0300 1)" font-size="27.6" fill="#141414">1</text>
<line x1="1402.7" y1="2058.24" x2="1412.9" y2="2058.24" stroke="#141414" stroke-width="3.0" stroke-linecap="round"/>
<text class="s" transform="translate(1383.49 2067.87) scale(1.0300 1)" font-size="27.6" fill="#141414">2</text>
<line x1="1402.7" y1="1964.26" x2="1412.9" y2="1964.26" stroke="#141414" stroke-width="3.0" stroke-linecap="round"/>
<text class="s" transform="translate(1383.42 1973.71) scale(1.0300 1)" font-size="27.6" fill="#141414">3</text>
<text class="s" transform="translate(1382.56 1879.77) scale(1.0300 1)" font-size="27.6" fill="#141414">4</text>
<line x1="1510.1" y1="2246.2" x2="1510.1" y2="2256" stroke="#141414" stroke-width="3.0" stroke-linecap="round"/>
<line x1="1704.3" y1="2246.2" x2="1704.3" y2="2256" stroke="#141414" stroke-width="3.0" stroke-linecap="round"/>
<line x1="1898.9" y1="2246.2" x2="1898.9" y2="2256" stroke="#141414" stroke-width="3.0" stroke-linecap="round"/>
<text class="s" transform="translate(1502.98 2288.22) scale(1.0600 1)" font-size="24.2" fill="#141414">0</text>
<text class="s" transform="translate(1653.09 2286.16) scale(1.0600 1)" font-size="24.2" fill="#141414">0.1 µmol</text>
<text class="s" transform="translate(1840.84 2287.6) scale(1.1107 1)" font-size="23.86" fill="#141414">0.25 µmol</text>
<path d="M1509.8 1942.5 V1932.8 H1705.5 V1942.5" fill="none" stroke="#141414" stroke-width="1.7"/>
<path d="M1509 1897.8 V1888.2 H1903.4 V1897.8" fill="none" stroke="#141414" stroke-width="1.7"/>
<path d="M1618.8 1908.3 L1618.8 1903.7 M1618.8 1908.3 L1623.17 1906.88 M1618.8 1908.3 L1621.5 1912.02 M1618.8 1908.3 L1616.1 1912.02 M1618.8 1908.3 L1614.43 1906.88" stroke="#141414" stroke-width="2.1" stroke-linecap="round" fill="none"/>
<path d="M1701.7 1851.7 L1701.7 1847.1 M1701.7 1851.7 L1706.07 1850.28 M1701.7 1851.7 L1704.4 1855.42 M1701.7 1851.7 L1699 1855.42 M1701.7 1851.7 L1697.33 1850.28" stroke="#141414" stroke-width="2.1" stroke-linecap="round" fill="none"/>
<text class="t" transform="translate(1363.8 2265.19) rotate(-90) scale(0.9057 1)" font-size="34.18" fill="#141414">Expression of TPM1 protein</text>
<linearGradient id="gA0" x1="0" y1="0" x2="0" y2="1"><stop offset="0" stop-color="#484848"/><stop offset="1" stop-color="#727272"/></linearGradient>
<clipPath id="cgA0"><rect x="767.6" y="219.6" width="372.4" height="83.4"/></clipPath>
<g clip-path="url(#cgA0)">
<rect x="767.6" y="219.6" width="372.4" height="83.4" fill="url(#gA0)"/>
<g filter="url(#blur2)">
<rect x="780" y="259" width="115" height="20" rx="10" ry="10" fill="#050505"/>
<rect x="896" y="254" width="116" height="22" rx="11" ry="11" fill="#050505"/>
<rect x="1012" y="250.5" width="140" height="23" rx="11.5" ry="11.5" fill="#050505"/>
</g>
<rect x="767.6" y="219.6" width="372.4" height="83.4" fill="#000" filter="url(#sp0)" opacity="0.38"/>
</g>
<linearGradient id="gA1" x1="0" y1="0" x2="0" y2="1"><stop offset="0" stop-color="#9e9e9e"/><stop offset="1" stop-color="#c6c6c6"/></linearGradient>
<clipPath id="cgA1"><rect x="768.5" y="309.6" width="372" height="83.8"/></clipPath>
<g clip-path="url(#cgA1)">
<rect x="768.5" y="309.6" width="372" height="83.8" fill="url(#gA1)"/>
<g filter="url(#blur)">
<rect x="786" y="350.5" width="104" height="7" rx="3.5" ry="3.5" fill="#141414"/>
<rect x="790" y="367" width="96" height="4" rx="2" ry="2" fill="#606060"/>
<rect x="893" y="340" width="107" height="18" rx="9" ry="9" fill="#060606"/>
<rect x="896" y="328" width="102" height="6" rx="3" ry="3" fill="#808080"/>
<rect x="896" y="363.5" width="104" height="5" rx="2.5" ry="2.5" fill="#3c3c3c"/>
<rect x="996" y="337.5" width="154" height="17" rx="8.5" ry="8.5" fill="#080808"/>
<rect x="1000" y="360" width="140" height="4" rx="2" ry="2" fill="#505050"/>
<rect x="1137" y="320" width="7" height="60" rx="30" ry="30" fill="#303030"/>
</g>
<rect x="768.5" y="309.6" width="372" height="83.8" fill="#000" filter="url(#sp1)" opacity="0.15"/>
</g>
<text class="r" transform="translate(826.86 143.5) scale(0.9909 1)" font-size="42.01" fill="#141414">manumycin A</text>
<text class="r" transform="translate(828.4 202.6) scale(1.1026 1)" font-size="29.02" fill="#141414">0</text>
<text class="r" transform="translate(904.41 202.6) scale(1.1628 1)" font-size="27.77" fill="#141414">5 µmol</text>
<text class="r" transform="translate(1016.73 202.6) scale(1.1137 1)" font-size="27.77" fill="#141414">10 µmol</text>
<text class="r" transform="translate(1149.35 352.1) scale(1.0558 1)" font-size="28.18" fill="#141414">TPM1</text>
<text class="r" transform="translate(1148.65 268.8) scale(1.0890 1)" font-size="28.18" fill="#141414">α-tubulin</text>
<linearGradient id="gB0" x1="0" y1="0" x2="0" y2="1"><stop offset="0" stop-color="#4a4a4a"/><stop offset="1" stop-color="#585858"/></linearGradient>
<clipPath id="cgB0"><rect x="752.8" y="659.3" width="370.6" height="93.3"/></clipPath>
<g clip-path="url(#cgB0)">
<rect x="752.8" y="659.3" width="370.6" height="93.3" fill="url(#gB0)"/>
<g filter="url(#blur2)">
<rect x="766" y="707" width="120" height="24" rx="12" ry="12" fill="#050505"/>
<rect x="884" y="702" width="121" height="26" rx="13" ry="13" fill="#050505"/>
<rect x="1002" y="697" width="130" height="28" rx="14" ry="14" fill="#050505"/>
</g>
<rect x="752.8" y="659.3" width="370.6" height="93.3" fill="#000" filter="url(#sp0)" opacity="0.38"/>
</g>
<linearGradient id="gB1" x1="0" y1="0" x2="0" y2="1"><stop offset="0" stop-color="#3e3e3e"/><stop offset="1" stop-color="#444444"/></linearGradient>
<clipPath id="cgB1"><rect x="753.7" y="765.3" width="371" height="94"/></clipPath>
<g clip-path="url(#cgB1)">
<rect x="753.7" y="765.3" width="371" height="94" fill="url(#gB1)"/>
<g filter="url(#blur2)">
<rect x="770" y="808.5" width="104" height="15" rx="7.5" ry="7.5" fill="#040404"/>
<rect x="886" y="808" width="108" height="16" rx="8" ry="8" fill="#040404"/>
<rect x="1000" y="806" width="116" height="18" rx="9" ry="9" fill="#040404"/>
<rect x="775" y="776" width="90" height="12" rx="6" ry="6" fill="#222222"/>
<rect x="890" y="776" width="95" height="12" rx="6" ry="6" fill="#1e1e1e"/>
<rect x="1005" y="777.5" width="100" height="13" rx="6.5" ry="6.5" fill="#222222"/>
</g>
</g>
<text class="r" transform="translate(884.96 570.6) scale(1.0324 1)" font-size="40.45" fill="#141414">U0126</text>
<text class="r" transform="translate(816.45 644) scale(1.1336 1)" font-size="29.47" fill="#141414">0</text>
<text class="r" transform="translate(892.73 644) scale(1.1290 1)" font-size="28.2" fill="#141414">5 µmol</text>
<text class="r" transform="translate(1005.13 644) scale(1.0946 1)" font-size="28.2" fill="#141414">10 µmol</text>
<text class="r" transform="translate(1140.96 807) scale(1.0505 1)" font-size="28.18" fill="#141414">TPM1</text>
<text class="r" transform="translate(1139.34 714.6) scale(1.0971 1)" font-size="28.18" fill="#141414">α-tubulin</text>
<linearGradient id="gC0" x1="0" y1="0" x2="0" y2="1"><stop offset="0" stop-color="#383838"/><stop offset="1" stop-color="#363636"/></linearGradient>
<clipPath id="cgC0"><rect x="753.7" y="1099.3" width="360.8" height="96.5"/></clipPath>
<g clip-path="url(#cgC0)">
<rect x="753.7" y="1099.3" width="360.8" height="96.5" fill="url(#gC0)"/>
<g filter="url(#blur2)">
<rect x="769" y="1145" width="107" height="18" rx="9" ry="9" fill="#0c0c0c"/>
<rect x="775" y="1119" width="95" height="22" rx="11" ry="11" fill="#242424"/>
<rect x="880" y="1123" width="120" height="34" rx="17" ry="17" fill="#0a0a0a"/>
<rect x="998" y="1132" width="116" height="20" rx="10" ry="10" fill="#0c0c0c"/>
<rect x="1000" y="1112" width="110" height="20" rx="10" ry="10" fill="#202020"/>
</g>
<rect x="753.7" y="1099.3" width="360.8" height="96.5" fill="#000" filter="url(#sp0)" opacity="0.2"/>
</g>
<linearGradient id="gC1" x1="0" y1="0" x2="0" y2="1"><stop offset="0" stop-color="#b8b8b8"/><stop offset="1" stop-color="#c4c4c4"/></linearGradient>
<clipPath id="cgC1"><rect x="753.7" y="1205.3" width="360.8" height="94.9"/></clipPath>
<g clip-path="url(#cgC1)">
<rect x="753.7" y="1205.3" width="360.8" height="94.9" fill="url(#gC1)"/>
<g filter="url(#blur)">
<rect x="767" y="1234" width="86" height="8" rx="4" ry="4" fill="#202020"/>
<rect x="767" y="1246.5" width="86" height="9" rx="4.5" ry="4.5" fill="#585858"/>
<rect x="755" y="1260.5" width="100" height="9" rx="4.5" ry="4.5" fill="#181818"/>
<rect x="880" y="1241" width="77" height="6" rx="3" ry="3" fill="#8a8a8a"/>
<rect x="878" y="1264.5" width="82" height="7" rx="3.5" ry="3.5" fill="#343434"/>
<rect x="980" y="1242" width="55" height="4" rx="2" ry="2" fill="#a4a4a4"/>
<rect x="978" y="1265" width="57" height="6" rx="3" ry="3" fill="#686868"/>
</g>
<rect x="753.7" y="1205.3" width="360.8" height="94.9" fill="#000" filter="url(#sp1)" opacity="0.12"/>
</g>
<text class="r" transform="translate(847.95 1018.6) scale(0.9934 1)" font-size="42.86" fill="#141414">LY294002</text>
<text class="r" transform="translate(815.15 1089.8) scale(1.1694 1)" font-size="28.57" fill="#141414">0</text>
<text class="r" transform="translate(866.98 1089.8) scale(1.1339 1)" font-size="27.34" fill="#141414">20 µmol</text>
<text class="r" transform="translate(1004.16 1089.8) scale(1.1298 1)" font-size="27.34" fill="#141414">50 µmol</text>
<text class="r" transform="translate(1135.36 1263.8) scale(1.0179 1)" font-size="28.79" fill="#141414">TPM1</text>
<text class="r" transform="translate(1133.35 1156.2) scale(1.0678 1)" font-size="28.79" fill="#141414">α-tubulin</text>
<linearGradient id="gD0" x1="0" y1="0" x2="0" y2="1"><stop offset="0" stop-color="#505050"/><stop offset="1" stop-color="#6c6c6c"/></linearGradient>
<clipPath id="cgD0"><rect x="754.7" y="1550.2" width="341.8" height="96.5"/></clipPath>
<g clip-path="url(#cgD0)">
<rect x="754.7" y="1550.2" width="341.8" height="96.5" fill="url(#gD0)"/>
<g filter="url(#blur2)">
<rect x="756" y="1595" width="112" height="28" rx="14" ry="14" fill="#040404"/>
<rect x="868" y="1591" width="111" height="28" rx="14" ry="14" fill="#040404"/>
<rect x="981" y="1588.5" width="119" height="25" rx="12.5" ry="12.5" fill="#050505"/>
</g>
<rect x="754.7" y="1550.2" width="341.8" height="96.5" fill="#000" filter="url(#sp0)" opacity="0.38"/>
</g>
<linearGradient id="gD1" x1="0" y1="0" x2="0" y2="1"><stop offset="0" stop-color="#8e8e8e"/><stop offset="1" stop-color="#a6a6a6"/></linearGradient>
<clipPath id="cgD1"><rect x="753.7" y="1655.3" width="341.9" height="96.5"/></clipPath>
<g clip-path="url(#cgD1)">
<rect x="753.7" y="1655.3" width="341.9" height="96.5" fill="url(#gD1)"/>
<g filter="url(#blur)">
<rect x="778" y="1675.5" width="80" height="5" rx="2.5" ry="2.5" fill="#303030"/>
<rect x="886" y="1673" width="79" height="8" rx="4" ry="4" fill="#141414"/>
<rect x="990" y="1673" width="88" height="8" rx="4" ry="4" fill="#161616"/>
<rect x="768" y="1702.5" width="96" height="15" rx="7.5" ry="7.5" fill="#080808"/>
<rect x="880" y="1700.5" width="88" height="17" rx="8.5" ry="8.5" fill="#080808"/>
<rect x="978" y="1694" width="107" height="24" rx="12" ry="12" fill="#060606"/>
<rect x="882" y="1687" width="84" height="12" rx="6" ry="6" fill="#303030"/>
<rect x="985" y="1686" width="95" height="12" rx="6" ry="6" fill="#282828"/>
<rect x="778" y="1690" width="80" height="8" rx="4" ry="4" fill="#707070"/>
</g>
</g>
<text class="r" transform="translate(876.46 1474.9) scale(0.9492 1)" font-size="44.53" fill="#141414">DAC</text>
<text class="r" transform="translate(799.1 1540.4) scale(1.1200 1)" font-size="28.57" fill="#141414">0</text>
<text class="r" transform="translate(868.3 1540.4) scale(1.1424 1)" font-size="27.34" fill="#141414">1 µmol</text>
<text class="r" transform="translate(992.06 1540.4) scale(1.1304 1)" font-size="27.34" fill="#141414">5 µmol</text>
<text class="r" transform="translate(1117.26 1698) scale(1.0271 1)" font-size="28.79" fill="#141414">TPM1</text>
<text class="r" transform="translate(1116.54 1607.8) scale(1.0713 1)" font-size="28.79" fill="#141414">α-tubulin</text>
<linearGradient id="gE0" x1="0" y1="0" x2="0" y2="1"><stop offset="0" stop-color="#555555"/><stop offset="1" stop-color="#7a7a7a"/></linearGradient>
<clipPath id="cgE0"><rect x="749.6" y="2033.5" width="357.7" height="90.8"/></clipPath>
<g clip-path="url(#cgE0)">
<rect x="749.6" y="2033.5" width="357.7" height="90.8" fill="url(#gE0)"/>
<g filter="url(#blur2)">
<rect x="760" y="2077" width="116" height="26" rx="13" ry="13" fill="#040404"/>
<rect x="875" y="2076" width="113" height="24" rx="12" ry="12" fill="#050505"/>
<rect x="992" y="2073" width="112" height="20" rx="10" ry="10" fill="#060606"/>
</g>
<rect x="749.6" y="2033.5" width="357.7" height="90.8" fill="#000" filter="url(#sp0)" opacity="0.38"/>
</g>
<linearGradient id="gE1" x1="0" y1="0" x2="0" y2="1"><stop offset="0" stop-color="#585858"/><stop offset="1" stop-color="#5e5e5e"/></linearGradient>
<clipPath id="cgE1"><rect x="749.6" y="2131.6" width="357.7" height="91.2"/></clipPath>
<g clip-path="url(#cgE1)">
<rect x="749.6" y="2131.6" width="357.7" height="91.2" fill="url(#gE1)"/>
<g filter="url(#blur)">
<rect x="775" y="2145.5" width="75" height="7" rx="3.5" ry="3.5" fill="#262626"/>
<rect x="780" y="2180" width="70" height="10" rx="5" ry="5" fill="#202020"/>
<rect x="877" y="2175" width="94" height="18" rx="9" ry="9" fill="#060606"/>
<rect x="991" y="2173" width="97" height="18" rx="9" ry="9" fill="#060606"/>
<rect x="880" y="2147" width="85" height="6" rx="3" ry="3" fill="#3c3c3c"/>
<rect x="990" y="2146" width="90" height="6" rx="3" ry="3" fill="#3c3c3c"/>
</g>
<rect x="749.6" y="2131.6" width="357.7" height="91.2" fill="#000" filter="url(#sp1)" opacity="0.38"/>
</g>
<text class="r" transform="translate(889.19 1961.7) scale(0.9135 1)" font-size="44.53" fill="#141414">TSA</text>
<text class="r" transform="translate(801.03 2021.8) scale(1.0953 1)" font-size="28.57" fill="#141414">0</text>
<text class="r" transform="translate(862.74 2021.8) scale(1.1278 1)" font-size="27.34" fill="#141414">0.1 µmol</text>
<text class="r" transform="translate(993.74 2021.8) scale(1.1295 1)" font-size="27.34" fill="#141414">0.25 µmol</text>
<text class="r" transform="translate(1122.66 2187.6) scale(1.0841 1)" font-size="27.27" fill="#141414">TPM1</text>
<text class="r" transform="translate(1121.34 2087.3) scale(1.1299 1)" font-size="27.27" fill="#141414">α-tubulin</text>
<text class="r" transform="translate(16.65 42.8) scale(0.7978 1)" font-size="43.56" fill="#141414">A</text>
<text class="r" transform="translate(16.88 491.3) scale(1.0522 1)" font-size="39.08" fill="#141414">B</text>
<text class="r" transform="translate(15.5 931.4) scale(1.1756 1)" font-size="37.58" fill="#141414">C</text>
<text class="r" transform="translate(16.88 1378.5) scale(1.1387 1)" font-size="36.34" fill="#141414">D</text>
<text class="r" transform="translate(16.88 1824.8) scale(1.0491 1)" font-size="39.08" fill="#141414">E</text>
</svg></body></html>
